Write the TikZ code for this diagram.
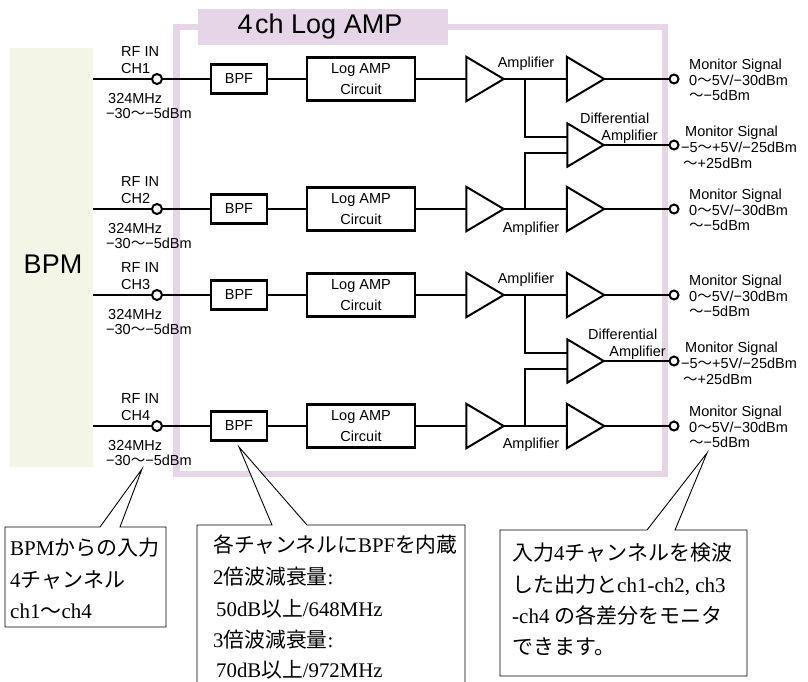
\documentclass[tikz,border=0pt]{standalone}
\usepackage{fontspec}
\setmainfont{Liberation Sans}
\newfontfamily\cjk{Noto Sans CJK JP}
\newfontfamily\ser{Liberation Serif}
\usetikzlibrary{calc}
\definecolor{pinkframe}{RGB}{229,213,230}
\definecolor{bpmfill}{RGB}{243,245,231}
\newcommand\J[1]{{\cjk #1}}
\newcommand\wv{{\cjk ～}}
\begin{document}
\begin{tikzpicture}[x=1pt,y=-1pt,
  lab/.style={font=\fontsize{14.5}{17}\selectfont, inner sep=0pt, anchor=base west},
  box/.style={draw, line width=2.4pt, inner sep=0pt, font=\fontsize{14.5}{21}\selectfont, align=center},
  bpfbox/.style={box, minimum width=56pt, minimum height=29pt},
  logbox/.style={box, minimum width=108pt, minimum height=43pt},
  ampbox/.style={minimum width=37pt, minimum height=44pt, inner sep=0pt},
  tri/.style={line width=2pt, line join=miter, fill=white},
  sig/.style={line width=2.2pt},
  port/.style={circle, draw, line width=2pt, fill=white, minimum size=10pt, inner sep=0pt},
  callout/.style={draw, line width=0.9pt, fill=white},
  ctext/.style={font=\ser\fontsize{21}{31}\selectfont, inner sep=0pt, anchor=base west},
  ctextb/.style={font=\ser\fontsize{20.8}{31}\selectfont, inner sep=0pt, anchor=base west},
]
\useasboundingbox (0,0) rectangle (808,681);
\fill[white] (0,0) rectangle (808,681);

% frame and title
\draw[pinkframe, line width=6.5pt] (176.5,27) rectangle (665,474);
\fill[pinkframe] (198,9) rectangle (448,45);
\node[font=\fontsize{27}{30}\selectfont, inner sep=0pt] (title) at (320,27) {4\hspace{2.5pt}ch Log AMP};

% BPM
\node[fill=bpmfill, minimum width=83pt, minimum height=419pt, inner sep=0pt] (bpm) at (51.5,257.5) {};
\node[font=\fontsize{27}{30}\selectfont, inner sep=0pt] (bpmt) at (53,264) {BPM};

% channels
\foreach \i/\y in {1/79, 2/209, 3/295, 4/426} {
  \node[port] (in\i) at (157,\y) {};
  \node[bpfbox] (bpf\i) at (239,\y) {BPF};
  \node[logbox] (log\i) at (361,\y) {Log AMP\\Circuit};
  \node[ampbox] (a\i) at (485,\y) {};
  \node[ampbox] (b\i) at (585.5,\y) {};
  \coordinate (j\i) at (525,\y);
  \draw[sig] (bpm.east |- in\i) -- (in\i);
  \draw[sig] (in\i) -- (bpf\i);
  \draw[sig] (bpf\i) -- (log\i);
  \draw[sig] (log\i) -- (a\i.west);
  \draw[sig] (a\i.east) -- (b\i.west);
  \node[port, minimum size=9pt] (out\i) at (674,\y) {};
  \draw[sig] (b\i.east) -- (out\i);
  \node[lab] (rf\i) at (121,\y-23) {RF IN};
  \node[lab] (ch\i) at (121,\y-6) {CH\i};
  \node[lab] (fq\i) at (108,\y+24) {324MHz};
  \node[lab] (lv\i) at (106,\y+39) {−30\wv−5dBm};
  \node[lab] (ms\i) at (689,\y-10) {Monitor Signal};
  \node[lab] (mv\i) at (689,\y+6) {0\wv5V/−30dBm};
  \node[lab] (mw\i) at (689,\y+21) {\wv−5dBm};
}

% differential amplifiers
\node[ampbox, minimum width=36pt, minimum height=43pt] (d1) at (585.5,145) {};
\node[ampbox, minimum width=36pt, minimum height=43pt] (d2) at (585.5,361) {};
\coordinate (d1p) at ($(d1.west)+(0,-8)$);
\coordinate (d1m) at ($(d1.west)+(0,8)$);
\coordinate (d2p) at ($(d2.west)+(0,-8)$);
\coordinate (d2m) at ($(d2.west)+(0,8)$);
\draw[sig] (j1) |- (d1p);
\draw[sig] (j2) |- (d1m);
\draw[sig] (j3) |- (d2p);
\draw[sig] (j4) |- (d2m);
\node[port, minimum size=9pt] (od1) at (674,145) {};
\node[port, minimum size=9pt] (od2) at (674,361) {};
\draw[sig] (d1.east) -- (od1);
\draw[sig] (d2.east) -- (od2);

\foreach \n in {a1,a2,a3,a4,b1,b2,b3,b4,d1,d2}
  \draw[tri] (\n.north west) -- (\n.east) -- (\n.south west) -- cycle;

% amplifier labels
\node[lab, anchor=base] (al1) at (526,67) {Amplifier};
\node[lab, anchor=base] (al2) at (531,232) {Amplifier};
\node[lab, anchor=base] (al3) at (526,283) {Amplifier};
\node[lab, anchor=base] (al4) at (531,448) {Amplifier};
\node[lab] (df1) at (580,123) {Differential};
\node[lab, anchor=base east] (da1) at (658,140) {Amplifier};
\node[lab] (df2) at (588,339) {Differential};
\node[lab, anchor=base east] (da2) at (666,356) {Amplifier};

% differential monitor labels
\node[lab] (dms1) at (685,136) {Monitor Signal};
\node[lab] (dmv1) at (681,152) {−5\wv+5V/−25dBm};
\node[lab] (dmw1) at (683,168) {\wv+25dBm};
\node[lab] (dms2) at (685,352) {Monitor Signal};
\node[lab] (dmv2) at (681,368) {−5\wv+5V/−25dBm};
\node[lab] (dmw2) at (683,384) {\wv+25dBm};

% callouts
\coordinate (tip1) at (142,469);
\coordinate (tip2) at (239,447);
\coordinate (tip3) at (707,453);
\draw[callout] (5,527) -- (100,527) -- (tip1) -- (120,527) -- (166,527) -- (166,627) -- (5,627) -- cycle;
\draw[callout] (197,690) -- (197,525) -- (272,525) -- (tip2) -- (307,525) -- (465,525) -- (465,690);
\draw[callout] (500,530) -- (647,530) -- (tip3) -- (675,530) -- (747,530) -- (747,676) -- (500,676) -- cycle;

\node[ctext] (c1a) at (10,555) {BPM\J{からの入力}};
\node[ctext] (c1b) at (10,587) {4\J{チャンネル}};
\node[ctext] (c1c) at (10,618) {ch1\J{～}ch4};

\node[ctextb] (c2a) at (213,552) {\J{各チャンネルに}BPF\J{を内蔵}};
\node[ctextb] (c2b) at (213,584) {2\J{倍波減衰量}:};
\node[ctextb] (c2c) at (216,616) {50dB\J{以上}/648MHz};
\node[ctextb] (c2d) at (213,647) {3\J{倍波減衰量}:};
\node[ctextb] (c2e) at (216,677) {70dB\J{以上}/972MHz};

\node[ctext] (c3a) at (512,560) {\J{入力}4\J{チャンネルを検波}};
\node[ctext] (c3b) at (512,592) {\J{した出力と}ch1-ch2, ch3};
\node[ctext] (c3c) at (512,623) {-ch4 \J{の各差分をモニタ}};
\node[ctext] (c3d) at (512,654) {\J{できます。}};
\end{tikzpicture}
\end{document}
